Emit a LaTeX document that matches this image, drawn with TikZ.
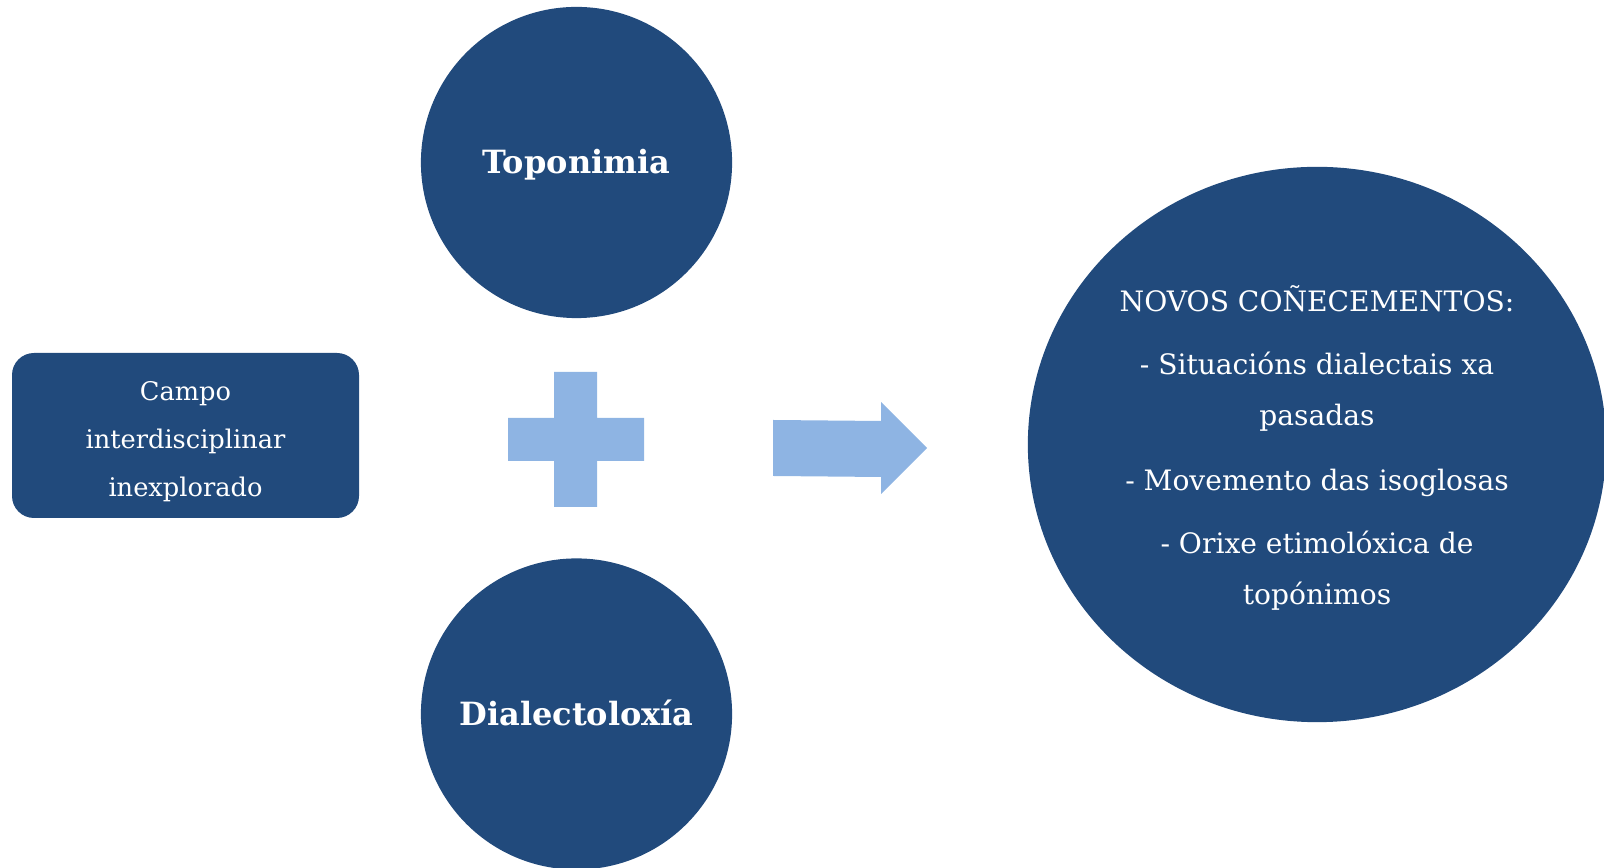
\documentclass[tikz,border=0pt]{standalone}
\usepackage{fontspec}
\setmainfont{DejaVu Serif}
\usetikzlibrary{shapes.geometric}
\definecolor{darkblue}{HTML}{214A7C}
\definecolor{lightblue}{HTML}{8EB4E3}
\tikzset{
  bigcircle/.style={circle, fill=darkblue, draw=none, minimum size=3.11cm, inner sep=0pt},
  circtext/.style={text=white, font=\fontsize{9.1}{11}\selectfont\bfseries},
  boxtext/.style={text=white, font=\fontsize{7.3}{9}\selectfont, anchor=base},
  elltext/.style={text=white, font=\fontsize{8}{10}\selectfont, anchor=base},
  shapefill/.style={fill=lightblue, draw=none}
}
\begin{document}
\begin{tikzpicture}[x=0.01cm,y=-0.01cm]
\useasboundingbox (0,0) rectangle (1604,868);
% top and bottom circles
\node[bigcircle] (topo) at (576.5,162.5) {};
\node[circtext] (topot) at (576.5,165) {Toponimia};
\node[bigcircle] (dial) at (576.5,714) {};
\node[circtext] (dialt) at (576.5,713) {Dialectoloxía};
% left box
\fill[darkblue, rounded corners=0.22cm] (12,353) rectangle (359,518);
\node[boxtext] (b1) at (185.5,401) {Campo};
\node[boxtext] (b2) at (185.5,449) {interdisciplinar};
\node[boxtext] (b3) at (185.5,497) {inexplorado};
% plus
\path[shapefill] (554,372) -- (597,372) -- (597,418) -- (644,418) -- (644,461) -- (597,461) -- (597,507) -- (554,507) -- (554,461) -- (508,461) -- (508,418) -- (554,418) -- cycle;
% arrow
\path[shapefill] (773,420) -- (881,421) -- (881,402) -- (927,448) -- (881,494) -- (881,477) -- (773,476) -- cycle;
% right ellipse
\node[ellipse, fill=darkblue, draw=none, minimum width=5.78cm, minimum height=5.55cm, inner sep=0pt] (ell) at (1317,444.5) {};
\node[elltext] (e1) at (1317,312) {NOVOS COÑECEMENTOS:};
\node[elltext] (e2) at (1317,375) {- Situacións dialectais xa};
\node[elltext] (e3) at (1317,426) {pasadas};
\node[elltext] (e4) at (1317,491) {- Movemento das isoglosas};
\node[elltext] (e5) at (1317,554) {- Orixe etimolóxica de};
\node[elltext] (e6) at (1317,605) {topónimos};
\end{tikzpicture}
\end{document}
